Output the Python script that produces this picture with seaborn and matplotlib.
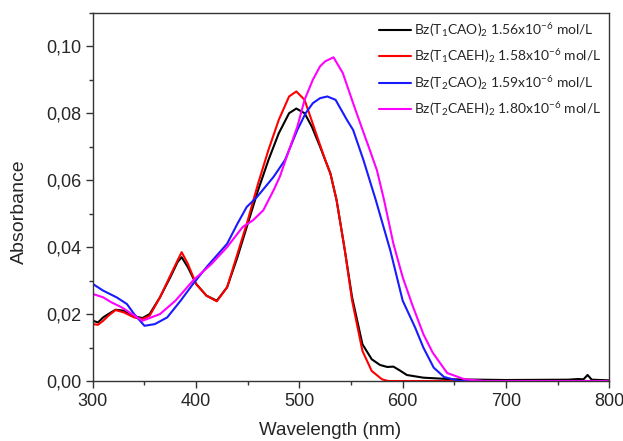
import numpy as np
import pandas as pd
import matplotlib
matplotlib.use("Agg")
import matplotlib.pyplot as plt
import seaborn as sns
from matplotlib.ticker import MultipleLocator, FuncFormatter

# sample labels
labels = [
    "Bz(T$_1$CAO)$_2$ 1.56x10$^{-6}$ mol/L",
    "Bz(T$_1$CAEH)$_2$ 1.58x10$^{-6}$ mol/L",
    "Bz(T$_2$CAO)$_2$ 1.59x10$^{-6}$ mol/L",
    "Bz(T$_2$CAEH)$_2$ 1.80x10$^{-6}$ mol/L",
]
colors = ["#000000", "#ff0000", "#1a1aff", "#ff00ff"]

# values (wavelength nm, absorbance)
wl_t1cao = [300, 305, 310, 315, 322, 330, 338, 348, 355, 365, 375, 382, 386, 392, 400,
            410, 420, 430, 440, 450, 460, 470, 480, 490, 497, 505, 512, 520, 530, 536,
            544, 551, 561, 570, 578, 585, 591, 597, 604, 620, 650, 700, 760, 770, 775,
            779, 783, 800]
abs_t1cao = [0.018, 0.0175, 0.019, 0.020, 0.0213, 0.021, 0.0195, 0.0188, 0.020, 0.025,
             0.031, 0.0355, 0.037, 0.034, 0.029, 0.0255, 0.024, 0.028, 0.037, 0.047,
             0.057, 0.066, 0.074, 0.080, 0.0814, 0.080, 0.076, 0.070, 0.062, 0.054,
             0.039, 0.025, 0.011, 0.0065, 0.0048, 0.0042, 0.0043, 0.0032, 0.0018, 0.001,
             0.0005, 0.0003, 0.0004, 0.0006, 0.0005, 0.0018, 0.0004, 0.0002]

wl_t1caeh = [300, 305, 310, 315, 322, 330, 340, 348, 355, 365, 375, 382, 386, 392, 400,
             410, 420, 430, 440, 450, 460, 470, 480, 490, 497, 505, 515, 525, 530, 536,
             544, 551, 561, 570, 580, 586, 650, 800]
abs_t1caeh = [0.017, 0.0168, 0.018, 0.0195, 0.0212, 0.0205, 0.019, 0.0185, 0.0195, 0.025,
              0.0315, 0.036, 0.0385, 0.035, 0.029, 0.0255, 0.0238, 0.028, 0.038, 0.048,
              0.059, 0.069, 0.078, 0.085, 0.0865, 0.084, 0.075, 0.066, 0.062, 0.054,
              0.039, 0.024, 0.009, 0.003, 0.0005, 0.0, 0.0, 0.0]

wl_t2cao = [300, 310, 323, 333, 340, 350, 360, 372, 385, 397, 410, 430, 440, 449, 459,
            467, 475, 486, 498, 506, 513, 520, 527, 535, 546, 552, 562, 574, 588, 600,
            612, 620, 630, 640, 655, 700, 800]
abs_t2cao = [0.029, 0.027, 0.025, 0.023, 0.020, 0.0165, 0.017, 0.019, 0.024, 0.029,
             0.034, 0.041, 0.047, 0.052, 0.055, 0.058, 0.061, 0.066, 0.075, 0.080,
             0.083, 0.0845, 0.085, 0.084, 0.078, 0.075, 0.066, 0.054, 0.039, 0.024,
             0.016, 0.010, 0.004, 0.0012, 0.0, 0.0, 0.0]

wl_t2caeh = [300, 310, 318, 328, 338, 348, 365, 380, 397, 415, 430, 445, 455, 465, 475,
             481, 490, 498, 505, 513, 520, 525, 533, 542, 552, 560, 567, 575, 582, 591,
             600, 609, 620, 629, 643, 660, 680, 800]
abs_t2caeh = [0.026, 0.025, 0.0235, 0.022, 0.020, 0.018, 0.020, 0.024, 0.030, 0.035,
              0.040, 0.046, 0.048, 0.051, 0.057, 0.061, 0.069, 0.076, 0.084, 0.090,
              0.094, 0.0955, 0.0967, 0.092, 0.083, 0.076, 0.070, 0.063, 0.054, 0.041,
              0.031, 0.023, 0.014, 0.0085, 0.0024, 0.0005, 0.0, 0.0]

frames = []
for lab, wl, ab in zip(labels,
                       [wl_t1cao, wl_t1caeh, wl_t2cao, wl_t2caeh],
                       [abs_t1cao, abs_t1caeh, abs_t2cao, abs_t2caeh]):
    frames.append(pd.DataFrame({"Wavelength": wl, "Absorbance": ab, "Sample": lab}))
df = pd.concat(frames, ignore_index=True)

sns.set_style("ticks")
plt.rcParams["font.family"] = ["Liberation Sans", "DejaVu Sans"]
plt.rcParams["mathtext.default"] = "regular"

fig = plt.figure(figsize=(6.23, 4.41), dpi=100)
ax = fig.add_axes([0.149, 0.136, 0.829, 0.835])

sns.lineplot(data=df, x="Wavelength", y="Absorbance", hue="Sample",
             hue_order=labels, palette=colors, estimator=None, linewidth=1.5, ax=ax)

ax.set_xlim(300, 800)
ax.set_ylim(0, 0.11)
ax.xaxis.set_major_locator(MultipleLocator(100))
ax.xaxis.set_minor_locator(MultipleLocator(50))
ax.yaxis.set_major_locator(MultipleLocator(0.02))
ax.yaxis.set_minor_locator(MultipleLocator(0.01))
ax.yaxis.set_major_formatter(FuncFormatter(lambda v, p: f"{v:.2f}".replace(".", ",")))
ax.tick_params(which="major", length=5, width=1, labelsize=13, color="#333333")
ax.tick_params(which="minor", length=3, width=1, color="#333333")
for s in ax.spines.values():
    s.set_linewidth(1)
    s.set_color("#333333")
ax.set_xlabel("Wavelength (nm)", fontsize=13.5)
ax.set_ylabel("Absorbance", fontsize=14)
ax.xaxis.set_label_coords(0.46, -0.11)
ax.yaxis.set_label_coords(-0.126, 0.46)

leg = ax.legend(loc="upper right", frameon=False, handlelength=2.3,
                handletextpad=0.2, labelspacing=0.6, borderaxespad=0.2,
                prop={"family": "Lato", "size": 10})

fig.savefig("out.png", dpi=100)
